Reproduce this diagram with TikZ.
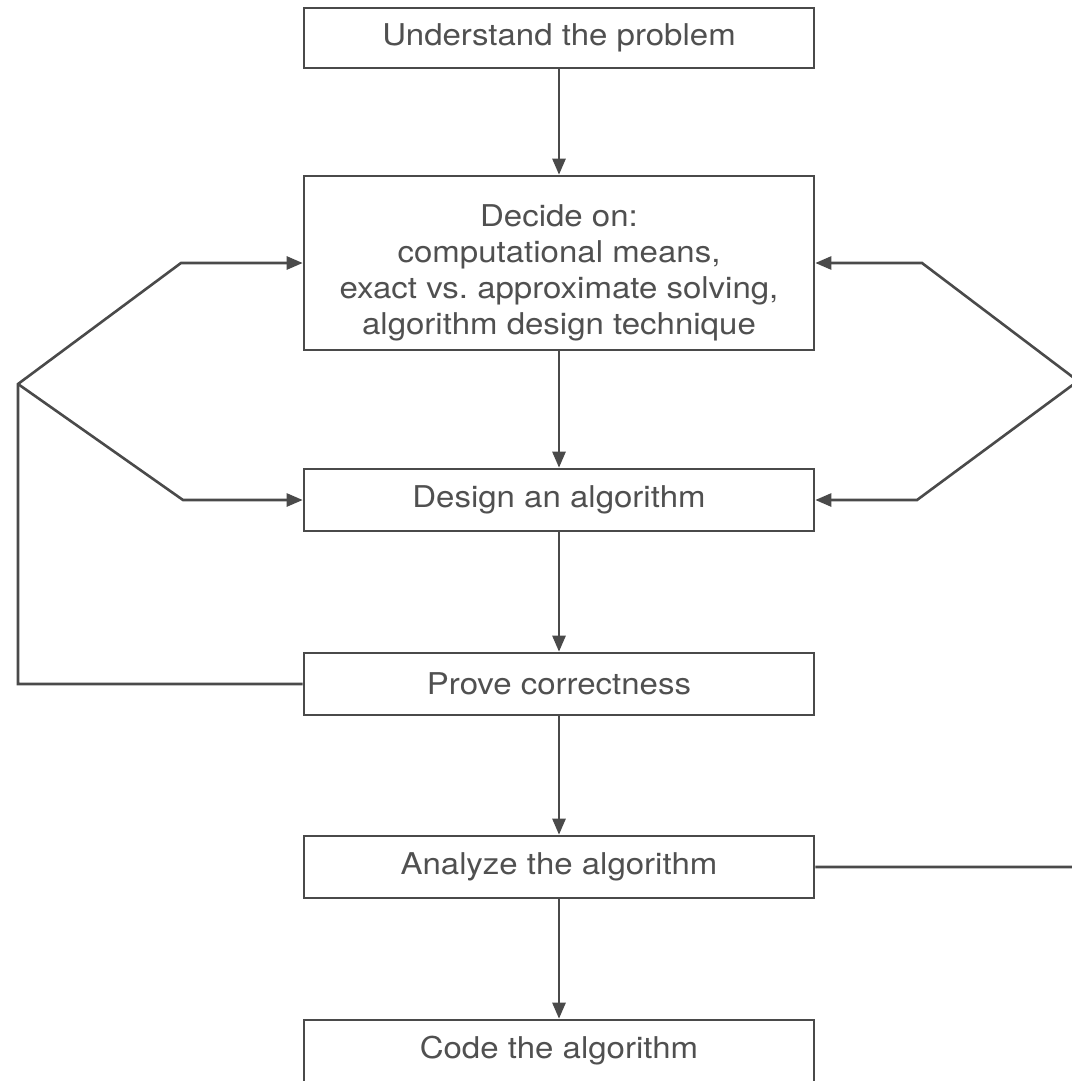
\documentclass[tikz,border=0pt]{standalone}
\usepackage{fontspec}
\setmainfont{TeX Gyre Heros}[FakeStretch=1.1]
\usepackage{tikz}
\usetikzlibrary{arrows.meta}
\definecolor{linegray}{HTML}{4A4A4A}
\definecolor{textgray}{HTML}{505050}

\begin{document}
\begin{tikzpicture}[->,>={Triangle[length=16pt,width=13pt]},x=1pt,y=-1pt,
                    line width=2.6pt,draw=linegray,node distance=184pt]
  \tikzstyle{stage}=[rectangle,draw=linegray,text=textgray,fill=none,
                     minimum width=510pt,minimum height=62pt,align=center,
                     font=\fontsize{30}{36}\selectfont]
  \useasboundingbox (0,0) rectangle (1071,1081);

  \node[stage,minimum height=60pt] (understand) at (559,38) {Understand the problem};
  \node[stage,minimum height=174pt,text height=150pt,text depth=8pt,inner ysep=4pt]
       (decide) [below of=understand,node distance=225pt]
       {Decide on:\\computational means,\\exact vs.\ approximate solving,\\algorithm design technique};
  \node[stage] (design)  [below of=decide,node distance=237pt] {Design an algorithm};
  \node[stage] (prove)   [below of=design]                     {Prove correctness};
  \node[stage] (analyze) [below of=prove,node distance=183pt]  {Analyze the algorithm};
  \node[stage] (code)    [below of=analyze]                    {Code the algorithm};

  % feedback forks
  \coordinate (lfork) at (18,384);
  \coordinate (lup)   at (181,263);
  \coordinate (ldown) at (183,500);
  \coordinate (rfork) at (1078,381);
  \coordinate (rup)   at (922,263);
  \coordinate (rdown) at (917,500);

  \path (understand) edge (decide)
        (decide)     edge (design)
        (design)     edge (prove)
        (prove)      edge (analyze)
        (analyze)    edge (code);

  \draw (prove.west) -| (lfork) -- (lup) -- (decide.west);
  \draw (lfork) -- (ldown) -- (design.west);
  \draw (analyze.east) -| (rfork) -- (rup) -- (decide.east);
  \draw (rfork) -- (rdown) -- (design.east);
\end{tikzpicture}
\end{document}
